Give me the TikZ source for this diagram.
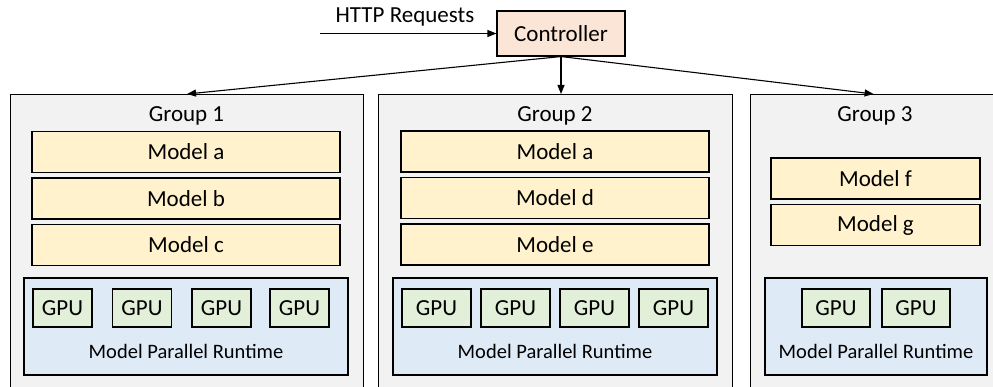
\documentclass[tikz,border=0pt]{standalone}
\usepackage{fontspec}
\setmainfont{Carlito}
\usetikzlibrary{arrows.meta}

\definecolor{groupfill}{HTML}{F2F2F2}
\definecolor{modelfill}{HTML}{FFF2CC}
\definecolor{rtfill}{HTML}{DEEBF7}
\definecolor{gpufill}{HTML}{E2F0D9}
\definecolor{ctrlfill}{HTML}{FBE5D6}

\tikzset{
  txt/.style={font=\fontsize{23}{27}\selectfont},
  box/.style={draw=black, line width=1.1pt, rectangle, inner sep=0pt},
  groupbox/.style={box, fill=groupfill},
  modelbox/.style={box, txt, fill=modelfill, minimum width=308pt, minimum height=41pt},
  rtbox/.style={box, fill=rtfill, minimum width=324pt, minimum height=97pt},
  gpubox/.style={box, txt, fill=gpufill, minimum height=38pt},
  ctrlbox/.style={box, txt, fill=ctrlfill, minimum width=128pt, minimum height=45pt},
  lbl/.style={inner sep=0pt, txt},
  rtlbl/.style={inner sep=0pt, font=\fontsize{20.5}{24}\selectfont},
  arr/.style={line width=1.1pt, -{Triangle[length=9pt,width=7pt]}},
}

\begin{document}
\begin{tikzpicture}[x=1pt, y=-1pt]
\useasboundingbox (0,0) rectangle (993,387);
\clip (0,0) rectangle (993,387);

% controller and incoming requests
\node[ctrlbox] (ctrl) at (561,33.5) {Controller};
\coordinate (req) at (320,33.5);
\node[lbl, anchor=base] (reqlbl) at (405,23) {HTTP Requests};
\draw[arr] (req) -- (ctrl.west);

% group containers (they run past the lower and right edges)
\node[groupbox, minimum width=353pt, minimum height=310pt, anchor=north west] (g1) at (10,94) {};
\node[groupbox, minimum width=354pt, minimum height=310pt, anchor=north west] (g2) at (378,94) {};
\node[groupbox, minimum width=246pt, minimum height=310pt, anchor=north west] (g3) at (750,94) {};

\node[lbl] (g1lbl) at (186.5,116) {Group 1};
\node[lbl] (g2lbl) at (555,116) {Group 2};
\node[lbl] (g3lbl) at (875,116) {Group 3};

% dispatch arrows
\draw[arr] (ctrl.south) -- (g1.north);
\draw[arr] (ctrl.south) -- (ctrl.south |- g2.north);
\draw[arr] (ctrl.south) -- (g3.north);

% group 1
\node[modelbox] (g1a) at (186,152) {Model a};
\node[modelbox] (g1b) at (186,198.5) {Model b};
\node[modelbox] (g1c) at (186,245) {Model c};
\node[rtbox] (g1rt) at (186,326.5) {};
\node[rtlbl] (g1rtl) at (186,351) {Model Parallel Runtime};
\foreach \x [count=\i] in {62.5,142,221.5,299.5}
  \node[gpubox, minimum width=59pt] (g1gpu\i) at (\x,308) {GPU};

% group 2
\node[modelbox] (g2a) at (555,151.5) {Model a};
\node[modelbox] (g2d) at (555,198) {Model d};
\node[modelbox] (g2e) at (555,244.5) {Model e};
\node[rtbox] (g2rt) at (555,326.5) {};
\node[rtlbl] (g2rtl) at (555,351) {Model Parallel Runtime};
\foreach \x [count=\i] in {436.5,515.5,594.5,673.5}
  \node[gpubox, minimum width=69pt] (g2gpu\i) at (\x,308) {GPU};

% group 3
\node[modelbox, minimum width=209pt] (g3f) at (875.5,178.5) {Model f};
\node[modelbox, minimum width=209pt] (g3g) at (875.5,225) {Model g};
\node[rtbox, minimum width=222pt] (g3rt) at (876,326.5) {};
\node[rtlbl] (g3rtl) at (876,351) {Model Parallel Runtime};
\node[gpubox, minimum width=68pt] (g3gpu1) at (836,308) {GPU};
\node[gpubox, minimum width=68pt] (g3gpu2) at (916,308) {GPU};
\end{tikzpicture}
\end{document}
